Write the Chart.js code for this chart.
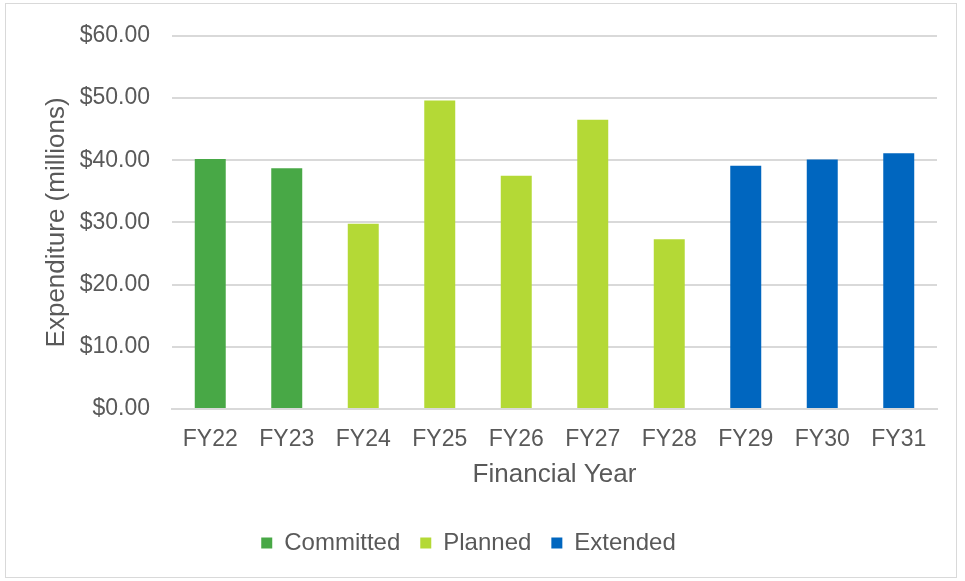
<!DOCTYPE html>
<html>
<head>
<meta charset="utf-8">
<script src="https://cdn.jsdelivr.net/npm/chart.js@4"></script>
<style>
  html, body { margin: 0; padding: 0; background: #fff; }
  #wrap { position: relative; width: 965px; height: 581px; }
  #frame { position: absolute; left: 5px; top: 3px; width: 952px; height: 575px; border: 1px solid #d9d9d9; box-sizing: border-box; pointer-events: none; }
  canvas { position: absolute; left: 0; top: 0; }
</style>
</head>
<body>
<div id="wrap">
  <canvas id="chart" width="965" height="581"></canvas>
  <div id="frame"></div>
</div>
<script>
// Expenditure by financial year, in millions of dollars
const years = ["FY22", "FY23", "FY24", "FY25", "FY26", "FY27", "FY28", "FY29", "FY30", "FY31"];
const committed = [40.2, 38.7, null, null, null, null, null, null, null, null];
const planned = [null, null, 29.8, 49.6, 37.5, 46.5, 27.3, null, null, null];
const extended = [null, null, null, null, null, null, null, 39.1, 40.1, 41.1];
const yTicks = [0, 10, 20, 30, 40, 50, 60];

const textColor = "#595959";
const gridColor = "#d9d9d9";
const fontFamily = "'Liberation Sans', Arial, sans-serif";

new Chart(document.getElementById("chart"), {
  type: "bar",
  data: {
    labels: years,
    datasets: [
      { label: "Committed", data: committed, backgroundColor: "#48A846" },
      { label: "Planned", data: planned, backgroundColor: "#B4D936" },
      { label: "Extended", data: extended, backgroundColor: "#0066BF" }
    ]
  },
  options: {
    responsive: false,
    animation: false,
    datasets: { bar: { categoryPercentage: 1, barPercentage: 0.405 } },
    layout: { padding: { left: 0, right: 28, top: 31, bottom: 16 } },
    plugins: {
      tooltip: { enabled: false },
      legend: {
        position: "bottom",
        labels: {
          color: textColor,
          font: { family: fontFamily, size: 24 },
          boxWidth: 11,
          boxHeight: 11,
          padding: 20
        }
      }
    },
    scales: {
      x: {
        stacked: true,
        grid: { display: false, drawTicks: false },
        border: { color: gridColor, width: 2 },
        ticks: { color: textColor, font: { family: fontFamily, size: 23 }, padding: 17 },
        title: { display: true, text: "Financial Year", color: textColor, font: { family: fontFamily, size: 26 }, padding: { top: 10, bottom: 21 } },
        afterFit: (s) => { s.height = 102; }
      },
      y: {
        stacked: true,
        min: 0,
        max: 60,
        afterBuildTicks: (s) => { s.ticks = yTicks.map(v => ({ value: v })); },
        grid: { color: gridColor, lineWidth: 2, drawTicks: false },
        border: { display: false },
        ticks: {
          color: textColor,
          font: { family: fontFamily, size: 23 },
          padding: 22,
          callback: (v) => "$" + Number(v).toFixed(2)
        },
        title: { display: true, text: "Expenditure (millions)", color: textColor, font: { family: fontFamily, size: 26 }, padding: { top: 41, bottom: 0 } },
        afterFit: (s) => { s.width = 172; }
      }
    }
  }
});
</script>
</body>
</html>
